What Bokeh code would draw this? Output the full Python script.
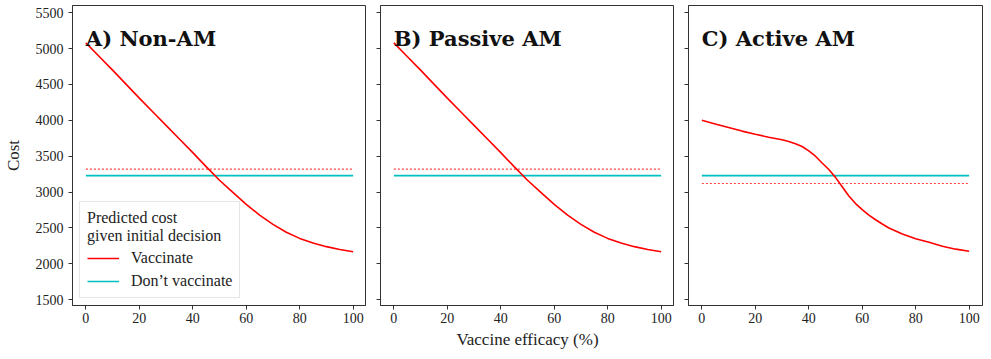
from bokeh.plotting import figure
from bokeh.layouts import row
from bokeh.models import Range1d, Label, Legend, LegendItem, FixedTicker
from bokeh.embed import file_html
from bokeh.resources import INLINE

# ---------------- data ----------------
efficacy = [0, 5, 10, 15, 20, 25, 30, 35, 40, 45, 50, 55, 60, 65, 70, 75, 80, 85, 90, 95, 100]
vacc_non_am = [5080, 4890, 4700, 4505, 4310, 4120, 3930, 3740, 3550, 3355, 3165, 2995, 2830, 2680,
               2550, 2440, 2355, 2290, 2240, 2200, 2170]
vacc_passive_am = [5080, 4890, 4700, 4505, 4310, 4120, 3930, 3740, 3550, 3355, 3165, 2995, 2830, 2680,
                   2550, 2440, 2355, 2290, 2240, 2200, 2170]
efficacy_active = [0, 5, 10, 15, 20, 25, 30, 32.5, 35, 37.5, 40, 42.5, 45, 47.5, 50, 52.5, 55,
                   57.5, 60, 62.5, 65, 67.5, 70, 75, 80, 85, 90, 95, 100]
vacc_active_am = [4000, 3950, 3900, 3850, 3805, 3765, 3730, 3705, 3675, 3635, 3575, 3500, 3405,
                  3315, 3205, 3075, 2945, 2840, 2755, 2680, 2615, 2555, 2500, 2415, 2350, 2300,
                  2245, 2205, 2175]
dont_vacc_cost = [3230, 3230, 3230]
vacc_reference_cost = [3320, 3320, 3120]
panel_titles = ["A) Non-AM", "B) Passive AM", "C) Active AM"]
x_span = [0, 100]
x_ticks = [0, 20, 40, 60, 80, 100]
y_ticks = [1500, 2000, 2500, 3000, 3500, 4000, 4500, 5000, 5500]

RED = "#ff0000"
CYAN = "#00bfbf"
SERIF = "Liberation Serif"
TITLE_FONT = "DejaVu Serif"

y_range = Range1d(1420, 5600)
series_x = [efficacy, efficacy, efficacy_active]
series_y = [vacc_non_am, vacc_passive_am, vacc_active_am]

panels = []
for i in range(3):
    p = figure(frame_width=294, frame_height=300,
               x_range=Range1d(-5, 105), y_range=y_range,
               output_backend="svg", toolbar_location=None,
               min_border_left=64 if i == 0 else 14,
               min_border_right=0 if i < 2 else 1,
               min_border_top=5, min_border_bottom=40)
    p.grid.visible = False
    p.outline_line_color = "#333333"
    p.outline_line_width = 1
    p.background_fill_color = "white"
    p.border_fill_color = "white"

    for ax in (p.xaxis[0], p.yaxis[0]):
        ax.axis_line_color = "#333333"
        ax.major_tick_line_color = "#333333"
        ax.major_tick_in = 0
        ax.major_tick_out = 4
        ax.minor_tick_line_color = None
        ax.major_label_text_font = SERIF
        ax.major_label_text_font_size = "14px"
        ax.major_label_text_color = "#222222"
        ax.axis_label_text_font = SERIF
        ax.axis_label_text_font_style = "normal"
        ax.axis_label_text_font_size = "17px"
        ax.axis_label_text_color = "#222222"

    p.xaxis.ticker = FixedTicker(ticks=x_ticks)
    p.yaxis.ticker = FixedTicker(ticks=y_ticks)
    p.xaxis.major_label_standoff = 3
    if i == 0:
        p.yaxis.axis_label = "Cost"
        p.yaxis.major_label_standoff = 5
        p.yaxis.axis_label_standoff = 10
    else:
        p.yaxis.major_label_overrides = {t: "" for t in y_ticks}
        p.yaxis.major_label_standoff = 0
    if i == 1:
        p.xaxis.axis_label = "Vaccine efficacy (%)"
        p.xaxis.axis_label_standoff = 4

    r_dot = p.line(x_span, [vacc_reference_cost[i]] * 2, line_color=RED, line_width=1.2,
                   line_dash="2 2", line_alpha=0.75)
    r_dont = p.line(x_span, [dont_vacc_cost[i]] * 2, line_color=CYAN, line_width=1.7)
    r_vacc = p.line(series_x[i], series_y[i], line_color=RED, line_width=1.6)

    p.add_layout(Label(x=0, y=5140, x_units="data", y_units="data", text=panel_titles[i],
                       text_font=TITLE_FONT, text_font_style="bold", text_font_size="21px",
                       text_color="#111111", text_baseline="alphabetic", text_align="left"))

    if i == 0:
        legend = Legend(
            items=[LegendItem(label="Vaccinate", renderers=[r_vacc]),
                   LegendItem(label="Don\u2019t vaccinate", renderers=[r_dont])],
            location="bottom_left",
            title="Predicted cost\ngiven initial decision",
            title_text_font=SERIF, title_text_font_size="16px", title_text_font_style="normal",
            title_text_color="#222222", title_standoff=4,
            label_text_font=SERIF, label_text_font_size="16px", label_text_color="#222222",
            glyph_width=32, glyph_height=16, label_height=16, label_standoff=12,
            spacing=5, padding=7, margin=7,
            border_line_color="#cccccc", border_line_width=1,
            background_fill_color="white", background_fill_alpha=0.85)
        p.add_layout(legend)

    panels.append(p)

layout = row(*panels, spacing=0)
open("out.html", "w").write(file_html(layout, INLINE))
